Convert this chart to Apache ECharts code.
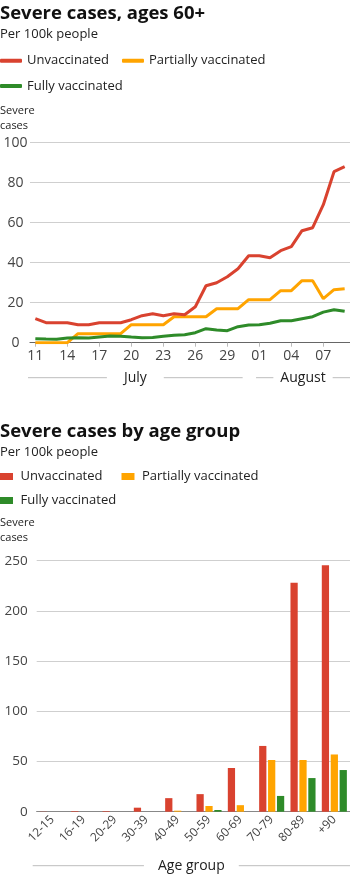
<!DOCTYPE html>
<html><head><meta charset="utf-8">
<script src="https://cdn.jsdelivr.net/npm/echarts@6/dist/echarts.min.js"></script>
<style>html,body{margin:0;padding:0;background:#fff}#c{width:350px;height:875px}</style>
</head><body><div id="c"></div>
<script>
// ---- Data: severe cases ages 60+, per 100k, Jul 11 – Aug 9 ----
const dates = ['11','12','13','14','15','16','17','18','19','20','21','22','23','24','25','26','27','28','29','30','31',
               '01','02','03','04','05','06','07','08','09'];
const months = ['July', 'August'];
const monthStartIndex = [0, 21];
const unvaccinated60 = [12,10,10,10,9,9,10,10,10,11.5,13.5,14.5,13.5,14.5,14,18,28.5,30,33,37,43.5,43.5,42.5,46,48,56,57.5,69,85.5,88];
const partially60    = [0,0,0,0,4.5,4.5,4.5,4.5,4.5,9,9,9,9,13,13,13,13,17,17,17,21.5,21.5,21.5,26,26,31,31,22,26.5,27];
const fully60        = [2,1.8,1.7,2.3,2.5,2.3,2.8,3.3,3.2,2.8,2.5,2.6,3.2,3.7,4,5,7,6.3,6,8,8.8,9,9.7,11,11,12,13,15.3,16.5,15.7];

// ---- Data: severe cases by age group, per 100k ----
const ageGroups       = ['12-15','16-19','20-29','30-39','40-49','50-59','60-69','70-79','80-89','+90'];
const unvaccinatedAge = [0.2,0.6,0.6,4,13.5,17.5,43.5,65.5,228,245.5];
const partiallyAge    = [0,0,0,0,1,5.7,6.5,51.5,51.5,57];
const fullyAge        = [0,0,0,0,0,1.7,0,15.7,33.5,41.5];

const names = ['Unvaccinated','Partially vaccinated','Fully vaccinated'];
const colors = ['#d9422f','#ffa400','#2e8b29'];
const FONT = 'Open Sans';
const TXT = '#222';
const AX = '#444';

const chart = echarts.init(document.getElementById('c'), null, {renderer:'canvas'});

const G1 = {left:30, right:0, top:142.7, height:200};
const G2 = {left:36.7, right:0, top:560.7, height:251};

function yAxis(grid, max, interval, centerAlign){
  return {
    type:'value', gridIndex:grid, min:0, max:max, interval:interval,
    axisLine:{show:false}, axisTick:{show:false},
    splitLine:{lineStyle:{color:'#cfcfcf', width:1}},
    axisLabel: centerAlign ?
      {color:AX, fontFamily:FONT, fontSize:14, align:'center', margin:14.5} :
      {color:AX, fontFamily:FONT, fontSize:13.5, margin:9}
  };
}

const titleStyle = {fontFamily:FONT, fontWeight:'bold', fontSize:18.5, color:'#111', lineHeight:24};
const subStyle = {fontFamily:FONT, fontSize:13, color:TXT, lineHeight:16};
const nameStyle = {fontFamily:FONT, fontWeight:'normal', fontSize:11, color:TXT, lineHeight:15};
const legText = {fontFamily:FONT, fontSize:13, color:TXT, lineHeight:16};

const option = {
  animation:false,
  backgroundColor:'#fff',
  textStyle:{fontFamily:FONT},
  title:[
    {text:'Severe cases, ages 60+', left:0, top:2, padding:0, itemGap:0,
     textStyle:titleStyle, subtext:'Per 100k people', subtextStyle:subStyle},
    {text:'Severe\ncases', left:0, top:103.5, padding:0, textStyle:nameStyle},
    {text:'Severe cases by age group', left:0, top:420, padding:0, itemGap:0,
     textStyle:titleStyle, subtext:'Per 100k people', subtextStyle:subStyle},
    {text:'Severe\ncases', left:0, top:515.5, padding:0, textStyle:nameStyle}
  ],
  legend:[
    {left:0, top:52.7, padding:0, itemWidth:22, itemHeight:4, itemGap:13, icon:'roundRect', selectedMode:false,
     textStyle:legText,
     data:[{name:names[0], itemStyle:{color:colors[0]}},{name:names[1], itemStyle:{color:colors[1]}}]},
    {left:0, top:78, padding:0, itemWidth:22, itemHeight:4, icon:'roundRect', selectedMode:false,
     textStyle:legText,
     data:[{name:names[2], itemStyle:{color:colors[2]}}]},
    {left:0, top:468.5, padding:0, itemWidth:13, itemHeight:7, itemGap:19, icon:'rect', selectedMode:false,
     textStyle:Object.assign({padding:[0,0,0,2.5]}, legText),
     data:[{name:names[0], itemStyle:{color:colors[0]}},{name:names[1], itemStyle:{color:colors[1]}}]},
    {left:0, top:492.5, padding:0, itemWidth:13, itemHeight:7, icon:'rect', selectedMode:false,
     textStyle:Object.assign({padding:[0,0,0,2.5]}, legText),
     data:[{name:names[2], itemStyle:{color:colors[2]}}]}
  ],
  grid:[G1, G2],
  xAxis:[
    {type:'category', gridIndex:0, data:dates, boundaryGap:true,
     axisLine:{lineStyle:{color:'#666', width:1.2}},
     axisTick:{show:true, alignWithLabel:true, interval:2, length:4, lineStyle:{color:'#bbb'}},
     axisLabel:{interval:2, color:AX, fontFamily:FONT, fontSize:14, margin:6}},
    {type:'category', gridIndex:1, data:ageGroups,
     axisLine:{lineStyle:{color:'#888', width:1.2}},
     axisTick:{show:false},
     axisLabel:{rotate:45, color:AX, fontFamily:FONT, fontSize:12, margin:6}}
  ],
  yAxis:[yAxis(0,100,20,true), yAxis(1,250,50,false)],
  series:[
    {name:names[0], type:'line', xAxisIndex:0, yAxisIndex:0, data:unvaccinated60, symbol:'none', lineStyle:{width:3, color:colors[0]}, itemStyle:{color:colors[0]}, z:5},
    {name:names[1], type:'line', xAxisIndex:0, yAxisIndex:0, data:partially60, symbol:'none', lineStyle:{width:3, color:colors[1]}, itemStyle:{color:colors[1]}, z:3},
    {name:names[2], type:'line', xAxisIndex:0, yAxisIndex:0, data:fully60, symbol:'none', lineStyle:{width:3, color:colors[2]}, itemStyle:{color:colors[2]}, z:4},
    {name:names[0], type:'bar', xAxisIndex:1, yAxisIndex:1, data:unvaccinatedAge, itemStyle:{color:colors[0]}, barCategoryGap:'20%', barGap:'23%'},
    {name:names[1], type:'bar', xAxisIndex:1, yAxisIndex:1, data:partiallyAge, itemStyle:{color:colors[1]}, barCategoryGap:'20%', barGap:'23%'},
    {name:names[2], type:'bar', xAxisIndex:1, yAxisIndex:1, data:fullyAge, itemStyle:{color:colors[2]}, barCategoryGap:'20%', barGap:'23%'}
  ]
};
chart.setOption(option);

// Month brackets under the date axis and the "Age group" bracket, placed through the axis scales
const px = i => chart.convertToPixel({xAxisIndex:0}, dates[i]);
const band = px(1) - px(0);
const W = 350;
const monthY = 377.7;
const julyL = px(monthStartIndex[0]) - band/2 - 2;
const julyR = px(monthStartIndex[1] - 1) - 6;
const augL = px(monthStartIndex[1]) - 3.3;
const augR = W;
const gx = i => chart.convertToPixel({xAxisIndex:1}, ageGroups[i]);
const aBand = gx(1) - gx(0);
const ageL = gx(0) - aBand/2 - 4;
const ageR = W;
const ageY = 865.7;
const lineStyle = {stroke:'#bdbdbd', lineWidth:1};
const labelStyle = (t, pad) => ({text:t, fill:TXT, font:'14px "Open Sans"', align:'center', verticalAlign:'middle',
                                 backgroundColor:'#fff', padding:[0,pad]});
chart.setOption({graphic:[
  {type:'line', shape:{x1:julyL, y1:monthY, x2:julyR, y2:monthY}, style:lineStyle, silent:true},
  {type:'text', x:(julyL+julyR)/2, y:monthY, style:labelStyle(months[0], 17), z:10, silent:true},
  {type:'line', shape:{x1:augL, y1:monthY, x2:augR, y2:monthY}, style:lineStyle, silent:true},
  {type:'text', x:(augL+augR)/2, y:monthY, style:labelStyle(months[1], 7), z:10, silent:true},
  {type:'line', shape:{x1:ageL, y1:ageY, x2:ageR, y2:ageY}, style:lineStyle, silent:true},
  {type:'text', x:(ageL+ageR)/2, y:ageY, style:labelStyle('Age group', 14), z:10, silent:true}
]});
</script></body></html>
